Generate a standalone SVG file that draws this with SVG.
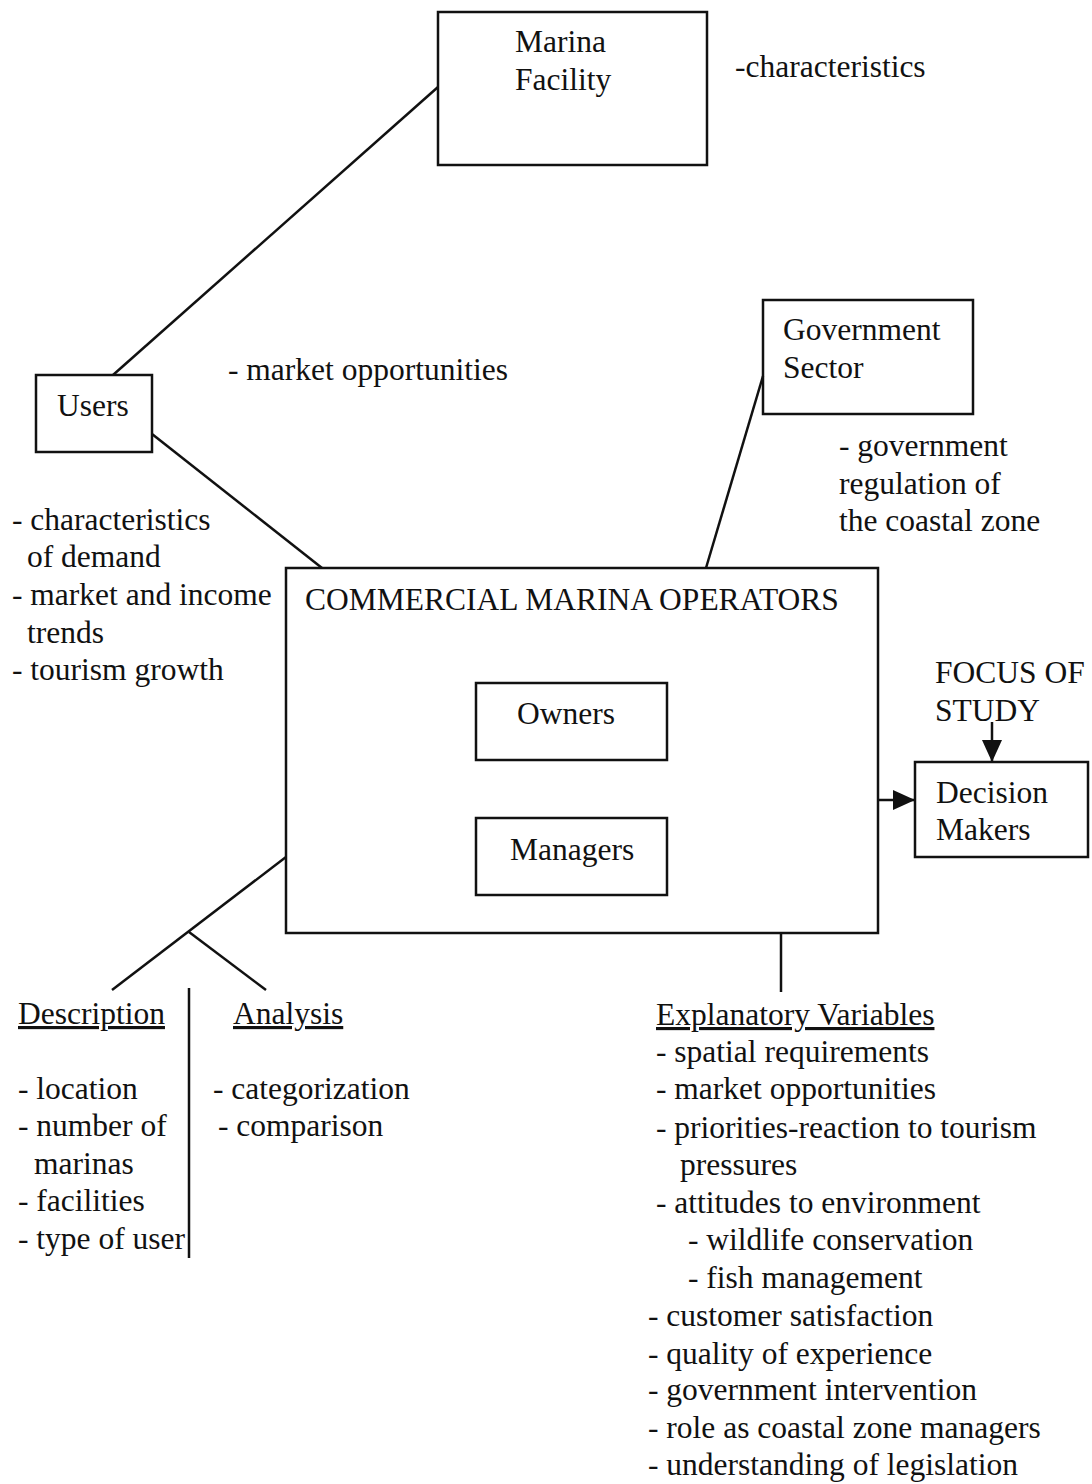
<svg xmlns="http://www.w3.org/2000/svg" width="1092" height="1484" viewBox="0 0 1092 1484">
  <style>
    text { font-family: "Liberation Serif", "Times New Roman", serif; font-size: 31.5px; fill: #111; }
    .box { fill: none; stroke: #111; stroke-width: 2.5; }
    .link { fill: none; stroke: #111; stroke-width: 2.5; }
    .ul { text-decoration: underline; }
  </style>
  <defs>
    <!-- solid triangular arrowhead, sized in user units -->
    <marker id="arrowBig" viewBox="0 0 22 20" refX="22" refY="10" markerWidth="22" markerHeight="20" markerUnits="userSpaceOnUse" orient="auto">
      <path d="M0,0 L22,10 L0,20 z" fill="#111"/>
    </marker>
  </defs>

  <rect width="1092" height="1484" fill="#fff"/>

  <!-- connectors -->
  <g id="connectors">
    <line class="link" x1="113" y1="375" x2="438" y2="87"/>
    <line class="link" x1="152" y1="434" x2="322" y2="568"/>
    <line class="link" x1="763" y1="376" x2="706" y2="568"/>
    <line class="link" x1="878" y1="800" x2="915" y2="800" marker-end="url(#arrowBig)"/>
    <line class="link" x1="992" y1="722" x2="992" y2="762" marker-end="url(#arrowBig)"/>
    <line class="link" x1="286" y1="857" x2="112" y2="990"/>
    <line class="link" x1="189" y1="932" x2="266" y2="990"/>
    <line class="link" x1="189" y1="988" x2="189" y2="1258"/>
    <line class="link" x1="781" y1="933" x2="781" y2="992"/>
  </g>

  <!-- nodes -->
  <g id="marina-facility">
    <rect class="box" x="438" y="12" width="269" height="153"/>
    <text x="515" y="52">Marina</text>
    <text x="515" y="90">Facility</text>
  </g>
  <text x="735" y="77">-characteristics</text>

  <g id="users">
    <rect class="box" x="36" y="375" width="116" height="77"/>
    <text x="57" y="416">Users</text>
  </g>
  <text x="228" y="380">- market opportunities</text>

  <g id="government-sector">
    <rect class="box" x="763" y="300" width="210" height="114"/>
    <text x="783" y="340">Government</text>
    <text x="783" y="378">Sector</text>
  </g>
  <g id="government-notes">
    <text x="839" y="456">- government</text>
    <text x="839" y="494">regulation of</text>
    <text x="839" y="531">the coastal zone</text>
  </g>

  <g id="user-notes">
    <text x="12" y="530">- characteristics</text>
    <text x="27" y="567">of demand</text>
    <text x="12" y="605">- market and income</text>
    <text x="27" y="643">trends</text>
    <text x="12" y="680">- tourism growth</text>
  </g>

  <g id="commercial-marina-operators">
    <rect class="box" x="286" y="568" width="592" height="365"/>
    <text x="305" y="610">COMMERCIAL MARINA OPERATORS</text>
  </g>
  <g id="owners">
    <rect class="box" x="476" y="683" width="191" height="77"/>
    <text x="517" y="724">Owners</text>
  </g>
  <g id="managers">
    <rect class="box" x="476" y="818" width="191" height="77"/>
    <text x="510" y="860">Managers</text>
  </g>

  <g id="focus-of-study">
    <text x="935" y="683">FOCUS OF</text>
    <text x="935" y="721">STUDY</text>
  </g>
  <g id="decision-makers">
    <rect class="box" x="915" y="762" width="173" height="95"/>
    <text x="936" y="803">Decision</text>
    <text x="936" y="840">Makers</text>
  </g>

  <g id="description">
    <text class="ul" x="18" y="1024">Description</text>
    <text x="18" y="1099">- location</text>
    <text x="18" y="1136">- number of</text>
    <text x="34" y="1174">marinas</text>
    <text x="18" y="1211">- facilities</text>
    <text x="18" y="1249">- type of user</text>
  </g>

  <g id="analysis">
    <text class="ul" x="233" y="1024">Analysis</text>
    <text x="213" y="1099">- categorization</text>
    <text x="218" y="1136">- comparison</text>
  </g>

  <g id="explanatory-variables">
    <text class="ul" x="656" y="1025">Explanatory Variables</text>
    <text x="656" y="1062">- spatial requirements</text>
    <text x="656" y="1099">- market opportunities</text>
    <text x="656" y="1138">- priorities-reaction to tourism</text>
    <text x="680" y="1175">pressures</text>
    <text x="656" y="1213">- attitudes to environment</text>
    <text x="688" y="1250">- wildlife conservation</text>
    <text x="688" y="1288">- fish management</text>
    <text x="648" y="1326">- customer satisfaction</text>
    <text x="648" y="1364">- quality of experience</text>
    <text x="648" y="1400">- government intervention</text>
    <text x="648" y="1438">- role as coastal zone managers</text>
    <text x="648" y="1475">- understanding of legislation</text>
  </g>
</svg>
